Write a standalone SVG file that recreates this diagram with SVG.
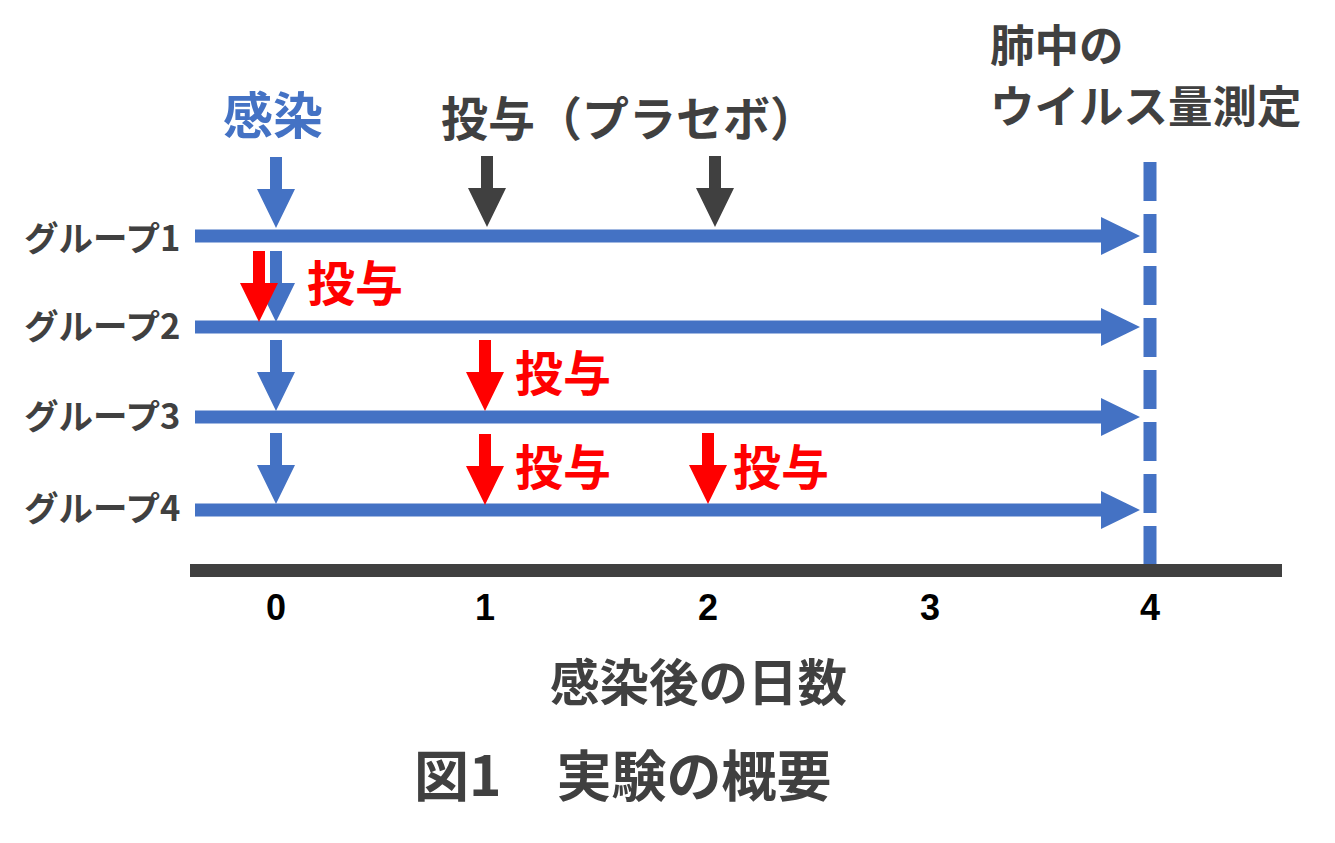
<svg xmlns="http://www.w3.org/2000/svg" width="1335" height="843" viewBox="0 0 1335 843">
<style>
text{font-family:"Noto Sans CJK JP","Noto Sans",sans-serif;font-weight:bold}
.g{fill:#404040}
.b{fill:#4472C4}
.r{fill:#FF0000}
.k{fill:#000000}
.lbl{font-size:34.5px}
.big{font-size:47px}
.red{font-size:48px}
.num{font-family:"Liberation Sans",Arial,sans-serif;font-size:36px;text-anchor:middle}
</style>
<defs>
<path id="down" d="M-6,0 H6 V32 H19 L0,71 L-19,32 H-6 Z"/>
<path id="right" d="M0,-6.5 H906 V-19 L945,0 L906,19 V6.5 H0 Z"/>
</defs>
<rect width="1335" height="843" fill="#FFFFFF"/>

<g id="connectors">
  <use href="#right" x="195" y="236" class="b"/>
  <use href="#right" x="195" y="327" class="b"/>
  <use href="#right" x="195" y="417" class="b"/>
  <use href="#right" x="195" y="510" class="b"/>
  <line x1="1150" y1="162" x2="1150" y2="564" stroke="#4472C4" stroke-width="13" stroke-dasharray="39 13"/>
  <rect x="190" y="564" width="1092" height="13" fill="#404040"/>
  <use href="#down" x="276" y="157" class="b"/>
  <use href="#down" x="487" y="156" class="g"/>
  <use href="#down" x="715" y="156" class="g"/>
  <use href="#down" x="276" y="251" class="b"/>
  <use href="#down" x="259" y="251" class="r"/>
  <use href="#down" x="276" y="340" class="b"/>
  <use href="#down" x="485" y="340" class="r"/>
  <use href="#down" x="276" y="433" class="b"/>
  <use href="#down" x="485" y="434" class="r"/>
  <use href="#down" x="708" y="433" class="r"/>
</g>

<g id="group1"><text x="24" y="251" class="g lbl">グループ1</text></g>
<g id="group2"><text x="24" y="339" class="g lbl">グループ2</text></g>
<g id="group3"><text x="24" y="429" class="g lbl">グループ3</text></g>
<g id="group4"><text x="24" y="521" class="g lbl">グループ4</text></g>

<g id="infection-label"><text x="223" y="134" class="b" font-size="50">感染</text></g>
<g id="placebo-label"><text x="441" y="136" class="g big">投与（プラセボ）</text></g>
<g id="measure-label">
  <text x="990" y="62" class="g" font-size="44.5">肺中の</text>
  <text x="990" y="123" class="g" font-size="44.5">ウイルス量測定</text>
</g>

<g id="dose-labels">
  <text x="307" y="301" class="r red">投与</text>
  <text x="515" y="391" class="r red">投与</text>
  <text x="515" y="485" class="r red">投与</text>
  <text x="733" y="485" class="r red">投与</text>
</g>

<g id="axis-labels">
  <text x="276" y="620" class="k num">0</text>
  <text x="485" y="620" class="k num">1</text>
  <text x="708" y="620" class="k num">2</text>
  <text x="930" y="620" class="k num">3</text>
  <text x="1150" y="620" class="k num">4</text>
  <text x="550" y="701" class="g" font-size="49.5">感染後の日数</text>
</g>

<g id="caption"><text x="414" y="796" class="g" font-size="55">図1　実験の概要</text></g>
</svg>
